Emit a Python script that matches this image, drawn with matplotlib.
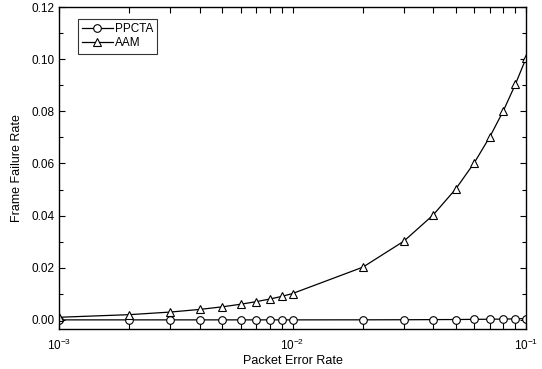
import matplotlib
matplotlib.use("Agg")
import matplotlib.pyplot as plt
from matplotlib.ticker import MultipleLocator, LogLocator, NullFormatter

plt.rcParams['font.family'] = ['Liberation Sans', 'DejaVu Sans']

per = [0.001, 0.002, 0.003, 0.004, 0.005, 0.006, 0.007, 0.008, 0.009, 0.01,
       0.02, 0.03, 0.04, 0.05, 0.06, 0.07, 0.08, 0.09, 0.1]
ppcta = [0.0, 0.0, 0.0, 0.0, 0.0, 0.0, 0.0, 0.0, 0.0, 0.0,
         0.00002, 0.00005, 0.0001, 0.00013, 0.0002, 0.00025, 0.0003, 0.0004, 0.0005]
aam = [0.001, 0.002, 0.003, 0.004, 0.005, 0.006, 0.007, 0.008, 0.009, 0.0101,
       0.0202, 0.0302, 0.0402, 0.0502, 0.0602, 0.0702, 0.0802, 0.0903, 0.1003]

fig = plt.figure(figsize=(5.42, 3.69), dpi=100)
ax = fig.add_axes([59/542, 1-329/369, (526-59)/542, (329-7)/369])

ax.plot(per, ppcta, color='black', lw=0.9, marker='o', ms=5.5,
        mfc='white', mec='black', mew=0.8, label='PPCTA')
ax.plot(per, aam, color='black', lw=0.9, marker='^', ms=6,
        mfc='white', mec='black', mew=0.8, label='AAM')

ax.set_xscale('log')
ax.set_xlim(1e-3, 1e-1)
ax.set_ylim(-0.0035, 0.12)
ax.yaxis.set_major_locator(MultipleLocator(0.02))
ax.yaxis.set_minor_locator(MultipleLocator(0.01))
ax.yaxis.set_major_formatter(plt.FuncFormatter(lambda v, p: f"{v:.2f}"))
ax.xaxis.set_minor_locator(LogLocator(base=10, subs=range(2, 10)))
ax.xaxis.set_minor_formatter(NullFormatter())

ax.tick_params(which='both', direction='in', top=True, right=True,
               labelsize=8.5, width=0.8)
ax.tick_params(which='major', length=4.5)
ax.tick_params(which='minor', length=3)
ax.tick_params(axis='x', which='minor', length=4)
ax.tick_params(axis='x', pad=6)
for s in ax.spines.values():
    s.set_linewidth(1.0)

ax.set_xlabel('Packet Error Rate', fontsize=9, labelpad=2)
ax.set_ylabel('Frame Failure Rate', fontsize=9, labelpad=6)

leg = ax.legend(loc='upper left', bbox_to_anchor=(0.04, 0.963), fontsize=8.5,
                frameon=True, fancybox=False, edgecolor='black',
                borderpad=0.35, handlelength=2.6, handletextpad=0.2,
                labelspacing=0.2, borderaxespad=0)
leg.get_frame().set_linewidth(0.8)

fig.savefig('out.png', dpi=100)
